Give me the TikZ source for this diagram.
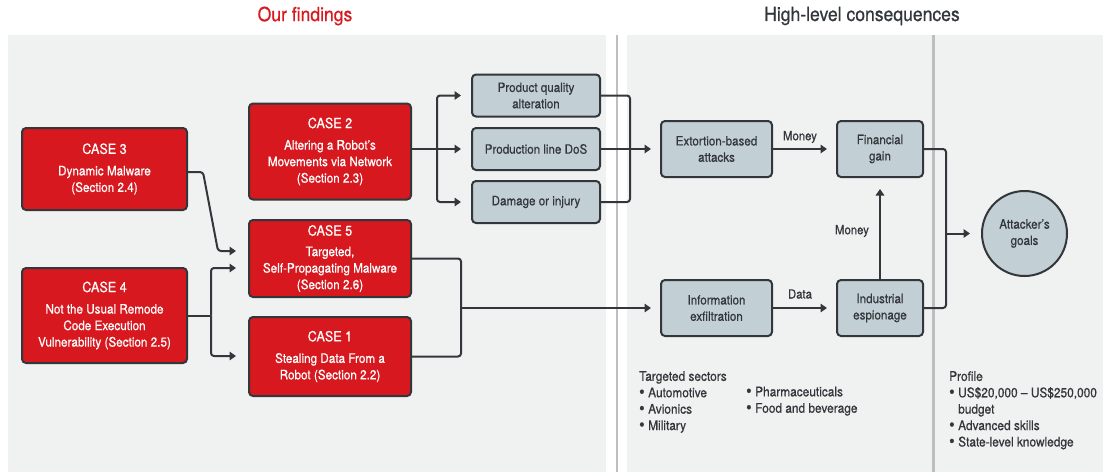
\documentclass[tikz,border=0pt]{standalone}
\usepackage{fontspec}
\setmainfont{TeX Gyre Heros}[FakeStretch=0.9,FakeBold=0.6]
\usetikzlibrary{arrows.meta}
\definecolor{panel}{HTML}{F0F1F1}
\definecolor{sep}{HTML}{BEBEBE}
\definecolor{casered}{HTML}{D7191F}
\definecolor{dark}{HTML}{33373B}
\definecolor{boxgrey}{HTML}{C2CFD5}
\newcommand{\bul}{\makebox[9pt][l]{\raisebox{-0.4pt}{\scalebox{1.3}{•}}}}
\begin{document}
\begin{tikzpicture}[x=1pt,y=-1pt,
  casebox/.style={draw=dark, line width=2pt, fill=casered, rounded corners=4pt, text=white,
    align=center, inner sep=0pt, font=\fontsize{13}{16.5}\selectfont},
  greybox/.style={draw=dark, line width=2pt, fill=boxgrey, rounded corners=4pt, text=dark,
    align=center, inner sep=0pt, font=\fontsize{12.9}{16.3}\selectfont},
  conn/.style={draw=dark, line width=2pt},
  arr/.style={conn, -{Triangle[length=6.5pt,width=8.5pt]}},
  lbl/.style={text=dark, font=\fontsize{12.6}{14}\selectfont, inner sep=0pt},
  notes/.style={text=dark, align=left, anchor=north west, inner sep=0pt, font=\fontsize{13.2}{16.4}\selectfont},
  title/.style={font=\fontsize{19.5}{22}\selectfont, inner sep=0pt}
]
\useasboundingbox (0,0) rectangle (1103,472);
% panels
\fill[panel] (8,35) rectangle (605.7,472);
\fill[panel] (626.7,35) rectangle (1103,472);
\fill[sep] (616,35) rectangle (618.3,472);
\fill[sep] (932.3,35) rectangle (934.5,472);
% titles
\node[title, text=casered] (t1) at (305,16) {Our findings};
\node[title, text=dark] (t2) at (862,16) {High-level consequences};
% case boxes
\newcommand{\casehd}[1]{{\fontsize{14}{18}\selectfont #1}}
\node[casebox, minimum width=165pt, minimum height=82pt] (case3) at (104.5,169)
  {\casehd{CASE 3}\\[5pt]Dynamic Malware\\(Section 2.4)};
\node[casebox, minimum width=165pt, minimum height=95pt] (case4) at (104.5,315.5)
  {\casehd{CASE 4}\\[5pt]Not the Usual Remode\\Code Execution\\Vulnerability (Section 2.5)};
\node[casebox, minimum width=162pt, minimum height=96pt] (case2) at (330,151.5)
  {\casehd{CASE 2}\\[5pt]Altering a Robot’s\\Movements via Network\\(Section 2.3)};
\node[casebox, minimum width=162pt, minimum height=77pt] (case5) at (330,258.5)
  {\casehd{CASE 5}\\[4pt]Targeted,\\Self-Propagating Malware\\(Section 2.6)};
\node[casebox, minimum width=162pt, minimum height=79pt] (case1) at (330,356.5)
  {\casehd{CASE 1}\\[5pt]Stealing Data From a\\Robot (Section 2.2)};
% grey boxes
\node[greybox, minimum width=128pt, minimum height=42pt] (pq) at (536,95.5) {Product quality\\alteration};
\node[greybox, minimum width=128pt, minimum height=42pt] (dos) at (536,149) {Production line DoS};
\node[greybox, minimum width=128pt, minimum height=42pt] (dmg) at (536,202) {Damage or injury};
\node[greybox, minimum width=111pt, minimum height=56pt] (ext) at (716.5,149) {Extortion-based\\attacks};
\node[greybox, minimum width=86pt, minimum height=56pt] (fin) at (880,149) {Financial\\gain};
\node[greybox, minimum width=111pt, minimum height=56pt] (info) at (716.5,308) {Information\\exfiltration};
\node[greybox, minimum width=86pt, minimum height=56pt] (ind) at (880,308) {Industrial\\espionage};
\node[greybox, circle, minimum size=85pt] (goal) at (1024.5,233.5) {Attacker’s\\goals};
% junction coordinates
\coordinate (j3a) at (203,172);
\coordinate (j3b) at (218,251);
\coordinate (j4) at (211,315.5);
\coordinate (j2) at (437,149);
\coordinate (j5) at (461,308);
\coordinate (jx) at (630,149);
\coordinate (jg) at (946,233.5);
% left connectors
\draw[arr, rounded corners=3pt] (case3.east |- j3a) -- (j3a) -- (j3b) -- ([xshift=-12pt]case5.west |- j3b);
\draw[conn] (case4.east) -- (j4);
\draw[arr, rounded corners=3pt] (j4) |- ([xshift=-12pt]case5.west |- 0,268);
\draw[arr, rounded corners=3pt] (j4) |- ([xshift=-12pt]case1.west |- 0,356);
% case 2 to outcomes
\draw[arr] (case2.east |- dos.west) -- ([xshift=-10pt]dos.west);
\draw[arr, rounded corners=3pt] (j2) |- ([xshift=-10pt]pq.west);
\draw[arr, rounded corners=3pt] (j2) |- ([xshift=-10pt]dmg.west);
% outcomes to extortion
\draw[conn, rounded corners=3pt] (pq.east) -| (jx) |- (dmg.east);
\draw[conn] (dos.east) -- (jx);
\draw[arr] (jx) -- ([xshift=-9pt]ext.west);
% case 5 / case 1 to info
\draw[conn, rounded corners=3pt] (case5.east) -| (j5) |- (case1.east);
\draw[arr] (j5) -- ([xshift=-9pt]info.west);
% right side
\draw[arr] (ext.east) -- ([xshift=-9pt]fin.west);
\node[lbl] (m1) at (800,137) {Money};
\draw[arr] (info.east) -- ([xshift=-9pt]ind.west);
\node[lbl] (d1) at (800,294) {Data};
\draw[arr] (ind.north) -- ([yshift=-11pt]fin.south);
\node[lbl] (m2) at (852,231) {Money};
\draw[conn, rounded corners=3pt] (fin.east) -| (jg) |- (ind.east);
\draw[arr] (jg) -- ([xshift=-11pt]goal.west);
% notes
\node[notes] (sect) at (639,371) {Targeted sectors\\\bul Automotive\\\bul Avionics\\\bul Military};
\node[notes] (sect2) at (746,386.5) {\bul Pharmaceuticals\\\bul Food and beverage};
\node[notes] (prof) at (949,371) {Profile\\\bul US\$20,000 – US\$250,000\\\makebox[9pt]{}budget\\\bul Advanced skills\\\bul State-level knowledge};
\end{tikzpicture}
\end{document}
